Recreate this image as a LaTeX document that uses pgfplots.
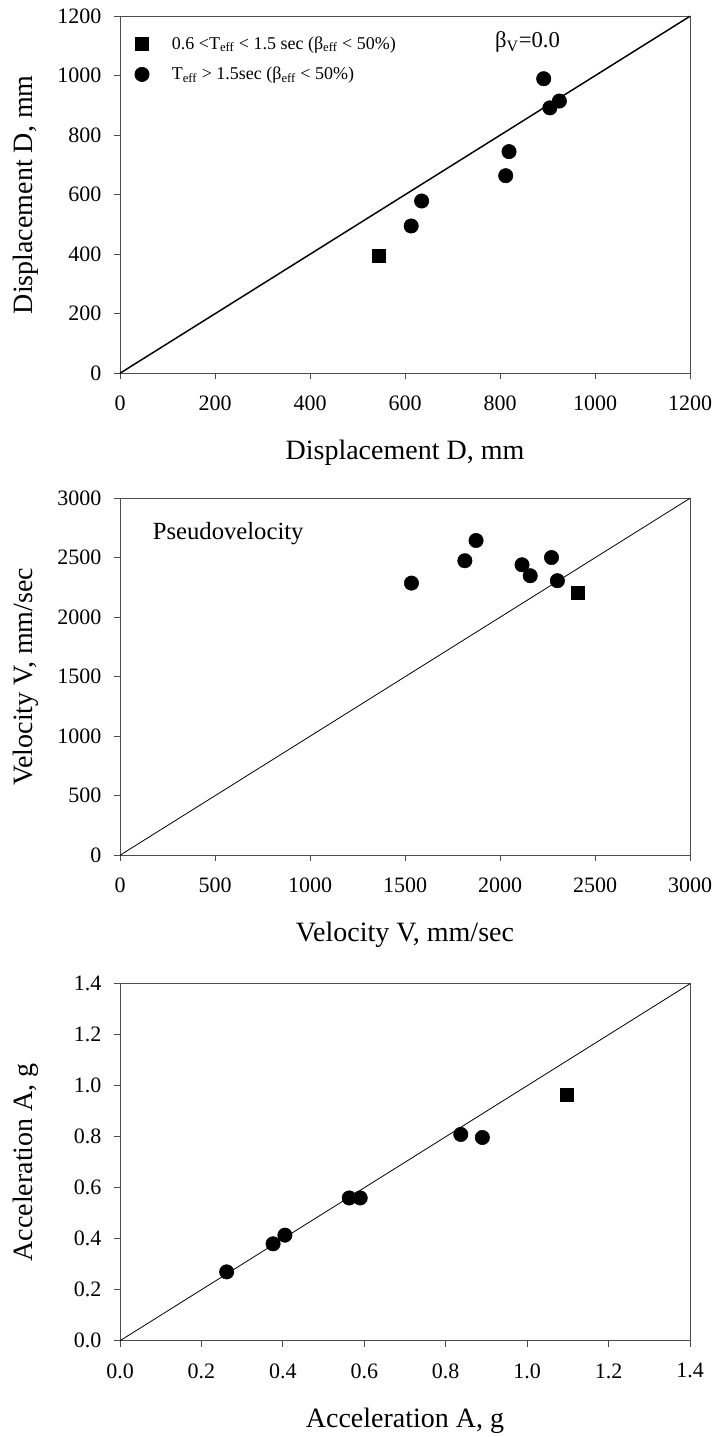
\documentclass[border=0pt]{standalone}
\usepackage{fontspec}
\setmainfont{Liberation Serif}
\usepackage{pgfplots}
\pgfplotsset{compat=1.18}

\pgfplotsset{
  panel/.style={
    scale only axis, width=427.5pt, height=267.75pt,
    axis line style={draw=black!70, line width=0.7pt},
    tick pos=left, tick align=outside, major tick length=4.5pt,
    every tick/.style={black!70, line width=0.7pt},
    ticklabel style={font=\fontsize{16.5}{19}\selectfont},
    xticklabel style={yshift=-9pt},
    yticklabel style={xshift=-6pt},
    /pgf/number format/assume math mode=true,
    /pgf/number format/1000 sep={},
    label style={font=\fontsize{21}{24}\selectfont},
    xlabel style={at={([yshift=-60pt]axis description cs:0.5,0)}, anchor=center},
    ylabel style={at={([xshift=-70.5pt]axis description cs:0,0.5)}, anchor=center},
    clip=false,
  },
  circ/.style={only marks, mark=*, mark size=5.4pt, black, mark options={fill=black}},
  sq/.style={only marks, mark=square*, mark size=4.9pt, black, mark options={fill=black}},
}

\begin{document}
\begin{tikzpicture}
\path[use as bounding box] (0,0) rectangle (535.5pt,1077.75pt);

% displacement
\begin{axis}[panel, at={(90pt,797.8pt)},
  xmin=0, xmax=1200, ymin=0, ymax=1200,
  xtick distance=200, ytick distance=200,
  xlabel={Displacement D, mm}, ylabel={Displacement D, mm},
  legend cell align=left,
  legend style={draw=none, fill=none, inner sep=0pt, row sep=8pt, column sep=15pt,
    font=\fontsize{13.5}{15}\selectfont,
    at={(rel axis cs:0.0255,0.88)}, anchor=west},
]
\addplot[black, line width=1.1pt, forget plot] coordinates {(0,0) (1200,1200)};
\addplot[sq] coordinates {(545,395)};
\addplot[circ] coordinates {(613,495) (635,579) (812,664) (819,745) (892,990) (905,892) (925,915)};
\legend{0.6 <T\textsubscript{eff} < 1.5 sec (β\textsubscript{eff} < 50\%),
        T\textsubscript{eff} > 1.5sec (β\textsubscript{eff} < 50\%)}
\node[font=\fontsize{17}{19}\selectfont] at (axis cs:858,1113) {β\textsubscript{V}=0.0};
\end{axis}

% velocity
\begin{axis}[panel, at={(90pt,436.3pt)},
  xmin=0, xmax=3000, ymin=0, ymax=3000,
  xtick distance=500, ytick distance=500,
  xlabel={Velocity V, mm/sec}, ylabel={Velocity V, mm/sec},
]
\addplot[black, line width=0.6pt] coordinates {(0,0) (3000,3000)};
\addplot[circ] coordinates {(1534,2287) (1815,2475) (1874,2645) (2116,2441) (2159,2349) (2271,2502) (2302,2307)};
\addplot[sq] coordinates {(2407,2206)};
\node[anchor=west, font=\fontsize{18.5}{21}\selectfont] at (axis cs:148,2700) {Pseudovelocity};
\end{axis}

% acceleration
\begin{axis}[panel, at={(90pt,72.2pt)},
  xmin=0, xmax=1.4, ymin=0, ymax=1.4,
  xtick distance=0.2, ytick distance=0.2,
  /pgf/number format/fixed, /pgf/number format/fixed zerofill, /pgf/number format/precision=1,
  xlabel={Acceleration A, g}, ylabel={Acceleration A, g},
]
\addplot[black, line width=0.6pt] coordinates {(0,0) (1.4,1.4)};
\addplot[circ] coordinates {(0.262,0.270) (0.376,0.380) (0.405,0.414) (0.563,0.560) (0.590,0.560) (0.837,0.809) (0.890,0.797)};
\addplot[sq] coordinates {(1.097,0.963)};
\end{axis}
\end{tikzpicture}
\end{document}
